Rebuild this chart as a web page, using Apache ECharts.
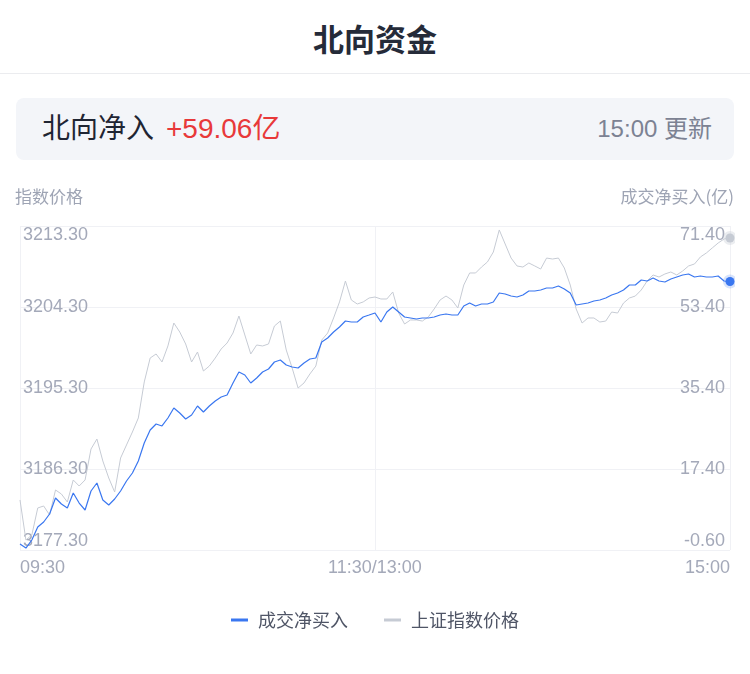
<!DOCTYPE html>
<html>
<head>
<meta charset="utf-8">
<script src="https://cdn.jsdelivr.net/npm/echarts@6/dist/echarts.min.js"></script>
<style>
  body { margin: 0; width: 750px; height: 674px; background: #fff; position: relative; overflow: hidden;
         font-family: "Liberation Sans", "Noto Sans CJK SC", sans-serif; }
  .title { position: absolute; left: 0; top: 0; width: 750px; height: 73px; line-height: 76px; text-align: center;
           font-size: 31px; font-weight: 700; color: #252b39; border-bottom: 1px solid #ebecef;
           font-family: "Noto Sans CJK SC", sans-serif; }
  .box { position: absolute; left: 16px; top: 98px; width: 718px; height: 62px; background: #f3f5f9; border-radius: 8px; }
  .box .l { position: absolute; left: 26px; top: 0; line-height: 62px; font-size: 28px; color: #1f2533; }
  .box .l span { color: #e8393a; margin-left: 12px; }
  .box .r { position: absolute; right: 22px; top: 0; line-height: 62px; font-size: 24px; color: #7c8293; }
  #chart { position: absolute; left: 15px; top: 175px; width: 720px; height: 499px; }
</style>
</head>
<body>
<div class="title">北向资金</div>
<div class="box"><div class="l">北向净入<span>+59.06亿</span></div><div class="r">15:00 更新</div></div>
<div id="chart"></div>
<script>
// 上证指数价格 (每2分钟)
const indexPrice = [
  3182.86, 3178.41, 3178.97, 3181.97, 3182.19, 3181.19, 3183.97, 3183.52, 3182.63, 3185.08,
  3184.41, 3185.08, 3188.52, 3189.63, 3187.19, 3185.30, 3183.74, 3187.52, 3188.97, 3190.41,
  3191.97, 3195.97, 3198.63, 3199.08, 3198.19, 3199.97, 3202.52, 3201.52, 3200.19, 3198.19,
  3199.30, 3197.19, 3197.74, 3198.63, 3199.63, 3200.30, 3201.41, 3203.30, 3201.19, 3199.08,
  3200.08, 3199.97, 3200.19, 3202.19, 3202.74, 3199.52, 3197.52, 3195.30, 3195.86, 3196.86,
  3197.74, 3200.63, 3201.41, 3203.08, 3204.86, 3207.19, 3205.08, 3204.63, 3204.86, 3205.30,
  3205.41, 3205.19, 3205.19, 3205.97, 3203.63, 3202.41, 3202.86, 3202.86, 3202.74, 3203.19,
  3204.08, 3205.08, 3205.52, 3205.08, 3204.19, 3206.74, 3208.08, 3208.08, 3208.74, 3209.30,
  3210.41, 3212.86, 3211.30, 3209.74, 3208.86, 3208.74, 3209.19, 3208.86, 3208.52, 3209.74,
  3209.63, 3209.74, 3208.63, 3206.74, 3204.08, 3202.52, 3203.08, 3203.08, 3202.63, 3202.74,
  3203.74, 3203.63, 3204.74, 3205.30, 3205.52, 3206.19, 3207.19, 3207.86, 3207.63, 3207.97,
  3208.19, 3207.86, 3208.30, 3208.86, 3209.08, 3209.86, 3210.30, 3210.86, 3211.41, 3211.86,
  3211.97
];

// 成交净买入 (亿)
const netBuy = [
  0.73, -0.16, 1.62, 4.51, 5.62, 7.40, 10.96, 9.62, 8.73, 12.07,
  9.84, 8.29, 12.51, 14.29, 10.51, 9.40, 10.73, 12.51, 14.73, 16.51,
  19.18, 23.18, 26.07, 27.40, 26.96, 28.73, 30.96, 29.84, 28.51, 29.40,
  31.40, 30.07, 31.40, 32.51, 33.40, 33.84, 36.51, 38.96, 38.29, 36.51,
  37.62, 38.96, 39.62, 41.18, 41.62, 40.51, 40.07, 39.84, 40.96, 41.84,
  42.07, 45.62, 46.51, 47.84, 48.96, 50.29, 50.07, 50.07, 51.18, 51.62,
  52.07, 50.07, 52.29, 53.40, 52.29, 51.18, 50.96, 50.73, 50.96, 50.96,
  51.18, 51.62, 51.84, 51.62, 51.62, 53.62, 54.29, 53.62, 54.07, 54.07,
  54.51, 56.51, 56.29, 55.84, 55.62, 56.07, 56.96, 56.96, 57.18, 57.62,
  57.62, 58.07, 57.40, 56.51, 53.84, 54.07, 54.29, 54.73, 54.96, 55.40,
  56.07, 56.51, 57.18, 58.29, 58.29, 59.40, 59.18, 59.84, 59.18, 58.96,
  59.62, 60.07, 60.51, 60.73, 60.07, 60.29, 60.07, 60.07, 60.29, 59.18,
  59.06
];

// 时间轴: 09:30-11:30, 13:02-15:00
function buildTimes() {
  const out = [];
  for (let m = 9 * 60 + 30; m <= 11 * 60 + 30; m += 2) out.push(fmt(m));
  for (let m = 13 * 60 + 2; m <= 15 * 60; m += 2) out.push(fmt(m));
  return out;
}
function fmt(m) {
  const h = Math.floor(m / 60), mm = m % 60;
  return (h < 10 ? '0' : '') + h + ':' + (mm < 10 ? '0' : '') + mm;
}
const times = buildTimes();
const shownTicks = { '09:30': '09:30', '11:30': '11:30/13:00', '15:00': '15:00' };

const leftMin = 3177.3, leftMax = 3213.3, leftStep = 9;
const rightMin = -0.6, rightMax = 71.4, rightStep = 18;

const blue = '#3a77f0';
const gray = '#c6cbd4';

function withEndDot(arr, color, halo) {
  return arr.map((v, i) => i === arr.length - 1
    ? { value: v, symbol: 'circle', symbolSize: 9, itemStyle: { color: color, borderColor: halo, borderWidth: 5 } }
    : v);
}

const chart = echarts.init(document.getElementById('chart'));
const labelColor = '#a4a9b9';
const gridColor = '#f0f1f5';

chart.setOption({
  animation: false,
  grid: { left: 5, right: 5, top: 51, bottom: 124, outerBoundsMode: 'none', containLabel: false },
  legend: {
    data: ['成交净买入', '上证指数价格'],
    bottom: 40,
    left: 'center',
    icon: 'rect',
    itemWidth: 17,
    itemHeight: 3,
    itemGap: 36,
    textStyle: { fontSize: 18, color: '#4f5566', padding: [0, 0, 0, 5],
                 fontFamily: '"Noto Sans CJK SC", sans-serif' }
  },
  xAxis: {
    type: 'category',
    data: times,
    boundaryGap: false,
    axisLine: { show: false },
    axisTick: { show: false },
    axisLabel: {
      color: labelColor, fontSize: 18, margin: 9,
      interval: (idx, val) => val in shownTicks,
      formatter: val => shownTicks[val] || '',
      alignMinLabel: 'left', alignMaxLabel: 'right'
    },
    splitLine: { show: true, interval: (idx, val) => val in shownTicks, lineStyle: { color: gridColor } }
  },
  yAxis: [
    {
      type: 'value', position: 'left',
      min: leftMin, max: leftMax, interval: leftStep,
      name: '指数价格', nameLocation: 'end', nameGap: 21,
      nameTextStyle: { color: '#9ea4b4', fontSize: 17, align: 'left', padding: [0, 0, 0, -5],
                       fontFamily: '"Noto Sans CJK SC", sans-serif' },
      axisLine: { show: false }, axisTick: { show: false },
      axisLabel: {
        inside: true, margin: 3, color: labelColor, fontSize: 18,
        formatter: v => v.toFixed(2),
        verticalAlignMinLabel: 'bottom', verticalAlignMaxLabel: 'top'
      },
      splitLine: { lineStyle: { color: gridColor } }
    },
    {
      type: 'value', position: 'right',
      min: rightMin, max: rightMax, interval: rightStep,
      name: '成交净买入(亿)', nameLocation: 'end', nameGap: 21,
      nameTextStyle: { color: '#9ea4b4', fontSize: 17, align: 'right', padding: [0, -4, 0, 0],
                       fontFamily: '"Noto Sans CJK SC", sans-serif' },
      axisLine: { show: false }, axisTick: { show: false },
      axisLabel: {
        inside: true, margin: 5, color: labelColor, fontSize: 18,
        formatter: v => v.toFixed(2),
        verticalAlignMinLabel: 'bottom', verticalAlignMaxLabel: 'top'
      },
      splitLine: { show: false }
    }
  ],
  series: [
    {
      name: '上证指数价格', type: 'line', yAxisIndex: 0,
      data: withEndDot(indexPrice, gray, 'rgba(198,203,212,0.35)'),
      symbol: 'none', showAllSymbol: true,
      lineStyle: { color: gray, width: 1 }, itemStyle: { color: gray }
    },
    {
      name: '成交净买入', type: 'line', yAxisIndex: 1,
      data: withEndDot(netBuy, blue, 'rgba(58,119,240,0.2)'),
      symbol: 'none', showAllSymbol: true,
      lineStyle: { color: blue, width: 1.2 }, itemStyle: { color: blue }
    }
  ]
});
</script>
</body>
</html>
